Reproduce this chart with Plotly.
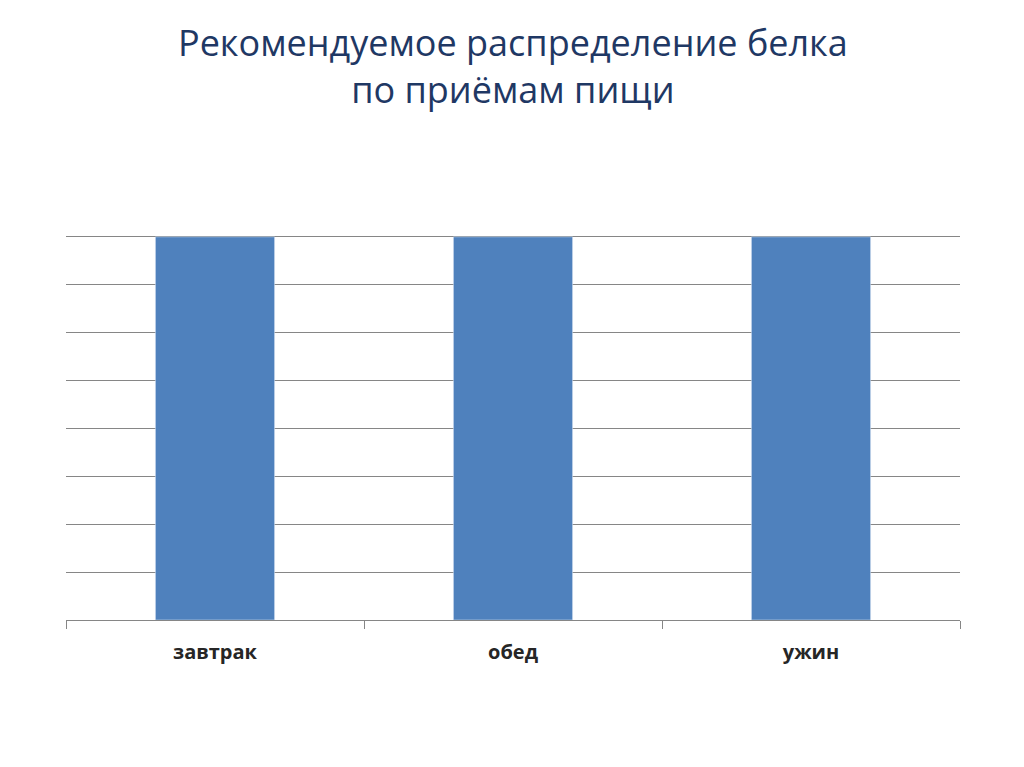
import plotly.graph_objects as go

categories = ["завтрак", "обед", "ужин"]
values = [8, 8, 8]

fig = go.Figure(go.Bar(x=categories, y=values, marker_color="#4F81BD", width=0.4))
fig.update_layout(
    width=1024, height=767,
    margin=dict(l=58, r=72, t=180, b=155),
    paper_bgcolor="white", plot_bgcolor="white",
    showlegend=False,
    xaxis=dict(showline=True, linecolor="#868686", ticks="outside", tickson="boundaries",
               ticklen=8, tickcolor="#868686", ticklabelstandoff=14,
               tickfont=dict(family="Open Sans", size=20, color="#262626", weight="bold")),
    yaxis=dict(range=[0, 9.02], dtick=1, showticklabels=False, gridcolor="#868686",
               gridwidth=1, zeroline=False),
)
fig.add_annotation(text="Рекомендуемое распределение белка<br>по приёмам пищи",
                   xref="paper", yref="paper", x=0.5, y=1, yshift=172, yanchor="top",
                   showarrow=False, align="center",
                   font=dict(family="Open Sans", size=36, color="#1F3864"))
fig.write_html("out.html")
